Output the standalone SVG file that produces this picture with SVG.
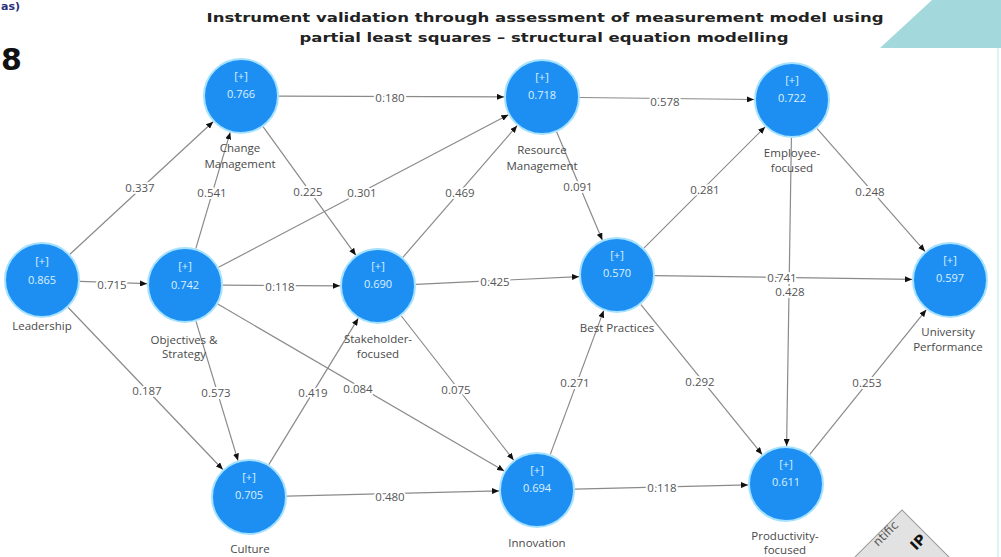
<svg xmlns="http://www.w3.org/2000/svg" width="1001" height="557" viewBox="0 0 1001 557">
<style>
.nd{fill:#1e8ff2;stroke:#a6e2ff;stroke-width:2}
.in{font-family:"Open Sans","DejaVu Sans",sans-serif;font-size:11px;fill:#dcefff;text-anchor:middle}
.lb{font-family:"Open Sans","DejaVu Sans",sans-serif;font-size:11.5px;fill:#4a4a4a;text-anchor:middle}
.el{font-family:"Open Sans","DejaVu Sans",sans-serif;font-size:11.5px;fill:#555;text-anchor:middle;stroke:#fff;stroke-width:4;paint-order:stroke;stroke-linejoin:round}
.ed{stroke:#8a8a8a;stroke-width:1.2;fill:none;marker-end:url(#ah)}
.tt{font-family:"DejaVu Sans","Verdana",sans-serif;font-weight:bold;font-size:13px;fill:#222;text-anchor:middle}
</style>
<defs>
<marker id="ah" markerWidth="7" markerHeight="6" refX="7" refY="3" orient="auto" markerUnits="userSpaceOnUse">
<path d="M0,0 L7,3 L0,6 z" fill="#111"/>
</marker>
</defs>
<rect width="1001" height="557" fill="#fff"/>
<polygon points="932,0 1001,0 1001,48 880,48" fill="#a3d9dc"/>
<line x1="998" y1="48" x2="998" y2="557" stroke="#d3eff2" stroke-width="1.5"/>
<text x="1" y="10" font-family="DejaVu Sans,sans-serif" font-weight="bold" font-size="11" fill="#2b2f7a">as)</text>
<text x="1" y="70" font-family="DejaVu Sans,sans-serif" font-weight="bold" font-size="30" fill="#111">8</text>
<text class="tt" x="545" y="22" textLength="677" lengthAdjust="spacingAndGlyphs">Instrument validation through assessment of measurement model using</text>
<text class="tt" x="544" y="42" textLength="489" lengthAdjust="spacingAndGlyphs">partial least squares – structural equation modelling</text>
<g id="connectors">
<line class="ed" x1="80" y1="281.3" x2="147" y2="283.7"/>
<line class="ed" x1="69.9" y1="254.2" x2="213.1" y2="121.8"/>
<line class="ed" x1="68.2" y1="307.5" x2="222.8" y2="469.5"/>
<line class="ed" x1="195.8" y1="248.6" x2="230.2" y2="132.4"/>
<line class="ed" x1="223" y1="285.2" x2="340" y2="285.8"/>
<line class="ed" x1="218.6" y1="267.3" x2="508.4" y2="114.7"/>
<line class="ed" x1="196" y1="321.4" x2="238" y2="460.6"/>
<line class="ed" x1="217.8" y1="304.1" x2="504.2" y2="470.9"/>
<line class="ed" x1="279" y1="96.1" x2="504" y2="96.9"/>
<line class="ed" x1="263.2" y1="126.8" x2="355.8" y2="255.2"/>
<line class="ed" x1="402.9" y1="257.3" x2="517.1" y2="125.7"/>
<line class="ed" x1="416" y1="284.3" x2="579" y2="276.7"/>
<line class="ed" x1="401.4" y1="316" x2="513.6" y2="460"/>
<line class="ed" x1="268.8" y1="464.6" x2="358.2" y2="318.4"/>
<line class="ed" x1="287" y1="496.1" x2="499" y2="490.9"/>
<line class="ed" x1="580" y1="97.5" x2="754" y2="99.5"/>
<line class="ed" x1="556.7" y1="132" x2="602.3" y2="240"/>
<line class="ed" x1="643.9" y1="248.1" x2="765.1" y2="126.9"/>
<line class="ed" x1="655" y1="275.6" x2="912" y2="279.4"/>
<line class="ed" x1="791.4" y1="138" x2="786.6" y2="446"/>
<line class="ed" x1="817.1" y1="128.6" x2="925" y2="251.4"/>
<line class="ed" x1="640.9" y1="304.6" x2="762.1" y2="454.4"/>
<line class="ed" x1="550.3" y1="454.4" x2="603.7" y2="310.6"/>
<line class="ed" x1="575" y1="489.1" x2="748" y2="484.9"/>
<line class="ed" x1="809.8" y1="454.4" x2="926.2" y2="309.8"/>
<text class="el" x="112" y="289">0.715</text>
<text class="el" x="140" y="192">0.337</text>
<text class="el" x="147" y="395">0.187</text>
<text class="el" x="212" y="197">0.541</text>
<text class="el" x="280" y="291">0.118</text>
<text class="el" x="362" y="197">0.301</text>
<text class="el" x="216" y="397">0.573</text>
<text class="el" x="358" y="393">0.084</text>
<text class="el" x="390" y="102">0.180</text>
<text class="el" x="308" y="196">0.225</text>
<text class="el" x="460" y="197">0.469</text>
<text class="el" x="495" y="286">0.425</text>
<text class="el" x="456" y="394">0.075</text>
<text class="el" x="313" y="397">0.419</text>
<text class="el" x="390" y="501">0.480</text>
<text class="el" x="665" y="106">0.578</text>
<text class="el" x="578" y="191">0.091</text>
<text class="el" x="705" y="194">0.281</text>
<text class="el" x="782" y="282">0.741</text>
<text class="el" x="790" y="296">0.428</text>
<text class="el" x="870" y="196">0.248</text>
<text class="el" x="700" y="386">0.292</text>
<text class="el" x="575" y="387">0.271</text>
<text class="el" x="662" y="492">0.118</text>
<text class="el" x="867" y="387">0.253</text>
</g>
<g id="leadership"><circle class="nd" cx="42" cy="280" r="37"/><text class="in" x="42" y="265">[+]</text><text class="in" x="42" y="284">0.865</text><text class="lb" x="42" y="330">Leadership</text></g>
<g id="objectives"><circle class="nd" cx="185" cy="285" r="37"/><text class="in" x="185" y="270">[+]</text><text class="in" x="185" y="289">0.742</text><text class="lb" x="184" y="344">Objectives &amp;</text><text class="lb" x="184" y="358">Strategy</text></g>
<g id="change"><circle class="nd" cx="241" cy="96" r="37"/><text class="in" x="241" y="80">[+]</text><text class="in" x="241" y="98">0.766</text><text class="lb" x="240" y="152">Change</text><text class="lb" x="240" y="168">Management</text></g>
<g id="stakeholder"><circle class="nd" cx="378" cy="286" r="37"/><text class="in" x="378" y="270">[+]</text><text class="in" x="378" y="288">0.690</text><text class="lb" x="378" y="343">Stakeholder-</text><text class="lb" x="378" y="358">focused</text></g>
<g id="resource"><circle class="nd" cx="542" cy="97" r="37"/><text class="in" x="542" y="81">[+]</text><text class="in" x="542" y="99">0.718</text><text class="lb" x="542" y="154">Resource</text><text class="lb" x="542" y="170">Management</text></g>
<g id="best"><circle class="nd" cx="617" cy="275" r="37"/><text class="in" x="617" y="259">[+]</text><text class="in" x="617" y="277">0.570</text><text class="lb" x="617" y="332">Best Practices</text></g>
<g id="employee"><circle class="nd" cx="792" cy="100" r="37"/><text class="in" x="792" y="84">[+]</text><text class="in" x="792" y="102">0.722</text><text class="lb" x="792" y="157">Employee-</text><text class="lb" x="792" y="172">focused</text></g>
<g id="university"><circle class="nd" cx="950" cy="280" r="37"/><text class="in" x="950" y="264">[+]</text><text class="in" x="950" y="282">0.597</text><text class="lb" x="948" y="336">University</text><text class="lb" x="948" y="351">Performance</text></g>
<g id="culture"><circle class="nd" cx="249" cy="497" r="37"/><text class="in" x="249" y="481">[+]</text><text class="in" x="249" y="499">0.705</text><text class="lb" x="250" y="553">Culture</text></g>
<g id="innovation"><circle class="nd" cx="537" cy="490" r="37"/><text class="in" x="537" y="474">[+]</text><text class="in" x="537" y="492">0.694</text><text class="lb" x="537" y="547">Innovation</text></g>
<g id="productivity"><circle class="nd" cx="786" cy="484" r="37"/><text class="in" x="786" y="468">[+]</text><text class="in" x="786" y="486">0.611</text><text class="lb" x="785" y="540">Productivity-</text><text class="lb" x="785" y="554">focused</text></g>
<g id="stamp">
<rect x="0" y="0" width="110" height="110" transform="translate(902,510) rotate(45)" fill="#e2e2e2" stroke="#9a9a9a" stroke-width="1"/>
<text x="878" y="547" transform="rotate(-45 878 547)" font-family="DejaVu Sans,sans-serif" font-size="12" fill="#555">ntific</text>
<text x="916" y="551" transform="rotate(-45 916 551)" font-family="DejaVu Sans,sans-serif" font-weight="bold" font-size="14" fill="#111">IP</text>
</g>
</svg>
